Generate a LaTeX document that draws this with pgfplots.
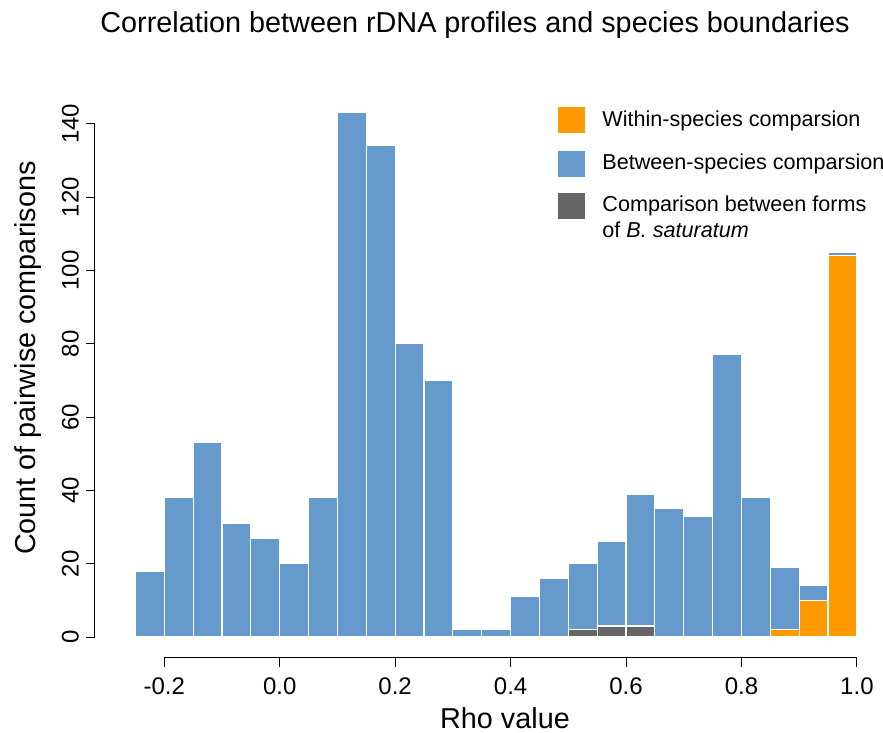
\documentclass[border=0pt]{standalone}
\usepackage{fontspec}
\setmainfont{Liberation Sans}
\usepackage{pgfplots}
\pgfplotsset{compat=1.18}
\definecolor{cblue}{HTML}{6699CC}
\definecolor{corange}{HTML}{FF9900}
\definecolor{cgray}{HTML}{666666}
\begin{document}
\begin{tikzpicture}
\begin{axis}[
  at={(0,0)}, anchor=south west,
  scale only axis, width=392.5pt, height=285.5pt,
  xmin=-0.32, xmax=1.04, ymin=-5.7, ymax=150,
  ybar stacked, bar width=0.05, clip=false,
  axis x line*=bottom, axis y line*=left,
  axis line style={draw=none},
  xtick={-0.2,0,0.2,0.4,0.6,0.8,1.0},
  xticklabels={-0.2,0.0,0.2,0.4,0.6,0.8,1.0},
  ytick={0,20,40,60,80,100,120,140},
  tick align=outside, major tick length=4.5pt,
  tick style={black, line width=0.5pt},
  /pgf/number format/assume math mode=true,
  ticklabel style={font=\fontsize{12}{14}\selectfont},
  yticklabel style={rotate=90, anchor=south},
  xticklabel style={anchor=north, yshift=-2pt},
]
\addplot[fill=corange, draw=white, line width=0.6pt] coordinates {
(-0.225,0) (-0.175,0) (-0.125,0) (-0.075,0) (-0.025,0) (0.025,0) (0.075,0)
(0.125,0) (0.175,0) (0.225,0) (0.275,0) (0.325,0) (0.375,0) (0.425,0)
(0.475,0) (0.525,0) (0.575,0) (0.625,0) (0.675,0) (0.725,0) (0.775,0)
(0.825,0) (0.875,2) (0.925,10) (0.975,104)};
\addplot[fill=cgray, draw=white, line width=0.6pt] coordinates {
(-0.225,0) (-0.175,0) (-0.125,0) (-0.075,0) (-0.025,0) (0.025,0) (0.075,0)
(0.125,0) (0.175,0) (0.225,0) (0.275,0) (0.325,0) (0.375,0) (0.425,0)
(0.475,0) (0.525,2) (0.575,3) (0.625,3) (0.675,0) (0.725,0) (0.775,0)
(0.825,0) (0.875,0) (0.925,0) (0.975,0)};
\addplot[fill=cblue, draw=white, line width=0.6pt] coordinates {
(-0.225,18) (-0.175,38) (-0.125,53) (-0.075,31) (-0.025,27) (0.025,20) (0.075,38)
(0.125,143) (0.175,134) (0.225,80) (0.275,70) (0.325,2) (0.375,2) (0.425,11)
(0.475,16) (0.525,18) (0.575,23) (0.625,36) (0.675,35) (0.725,33) (0.775,77)
(0.825,38) (0.875,17) (0.925,4) (0.975,1)};
\draw[black, line width=0.5pt] (axis cs:-0.2,-5.7) -- (axis cs:1.0,-5.7);
\draw[black, line width=0.5pt] (axis cs:-0.32,0) -- (axis cs:-0.32,140);
\end{axis}
% title and axis labels
\node[font=\fontsize{14.4}{17}\selectfont] at (190pt,316.5pt) {Correlation between rDNA profiles and species boundaries};
\node[font=\fontsize{14.4}{17}\selectfont] at (205pt,-30pt) {Rho value};
\node[rotate=90, font=\fontsize{14.4}{17}\selectfont] at (-33.5pt,150pt) {Count of pairwise comparisons};
% legend
\fill[corange] (231.5pt,262.5pt) rectangle (245pt,275.5pt);
\fill[cblue] (231.5pt,240.5pt) rectangle (245pt,253.5pt);
\fill[cgray] (231.5pt,219.5pt) rectangle (245pt,232.5pt);
\begin{scope}[every node/.style={anchor=west, inner sep=0pt, font=\fontsize{10.8}{13}\selectfont}]
\node at (253.5pt,268.5pt) {Within-species comparsion};
\node at (253.5pt,247pt) {Between-species comparsion};
\node at (253.5pt,226pt) {Comparison between forms};
\node at (253.5pt,214pt) {of \textit{B. saturatum}};
\end{scope}
\pgfresetboundingbox
\path[use as bounding box] (-47.5pt,-37.5pt) rectangle (394pt,329pt);
\end{tikzpicture}
\end{document}
